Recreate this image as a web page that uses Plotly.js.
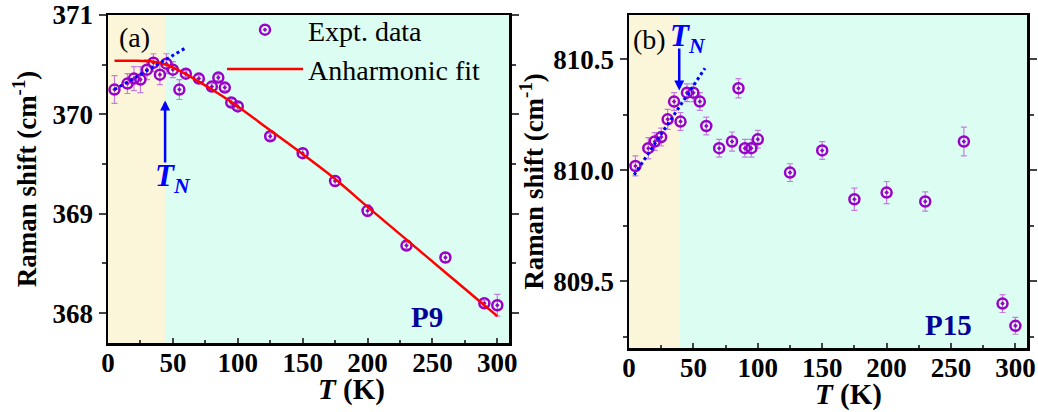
<!DOCTYPE html>
<html>
<head>
<meta charset="utf-8">
<script src="https://cdn.plot.ly/plotly-3.0.1.min.js"></script>
<style>html,body{margin:0;padding:0;background:#fff}#chart{width:1038px;height:412px}</style>
</head>
<body>
<div id="chart"></div>
<script>
// Panel (a): P9 mode
var T_a = [5,15,20,25,30,35,40,45,50,55,60,70,80,85,90,95,100,125,150,175,200,230,260,290,300];
var w_a = [370.25,370.31,370.36,370.35,370.45,370.52,370.40,370.51,370.45,370.25,370.41,370.36,370.28,370.37,370.27,370.12,370.08,369.78,369.61,369.33,369.03,368.68,368.56,368.10,368.08];
var err_a = [0.14,0.10,0.12,0.13,0.10,0.09,0.10,0.10,0.08,0.10,0.03,0.03,0.03,0.03,0.03,0.03,0.03,0.03,0.04,0.05,0.06,0.03,0.05,0.03,0.11];
var fitT_a = [5,20,35,45,55,70,85,100,125,150,175,200,230,260,290,300];
var fitW_a = [370.54,370.54,370.53,370.50,370.44,370.33,370.21,370.08,369.84,369.60,369.35,369.07,368.74,368.41,368.08,367.97];
var dotT_a = [5,60];
var dotW_a = [370.25,370.67];
var TN_a = 44;

// Panel (b): P15 mode
var T_b = [5,15,20,25,30,35,40,45,50,55,60,70,80,85,90,95,100,125,150,175,200,230,260,290,300];
var w_b = [810.02,810.10,810.13,810.15,810.23,810.31,810.22,810.35,810.35,810.31,810.20,810.10,810.13,810.37,810.10,810.10,810.14,809.99,810.09,809.87,809.90,809.86,810.13,809.40,809.30];
var err_b = [0.045,0.048,0.04,0.04,0.045,0.04,0.04,0.04,0.04,0.04,0.04,0.04,0.043,0.043,0.04,0.04,0.04,0.04,0.04,0.05,0.05,0.043,0.065,0.04,0.038];
var dotT_b = [4,59];
var dotW_b = [809.98,810.46];
var TN_b = 39;

var xTicks = [0,50,100,150,200,250,300];

var FONT = "Liberation Serif";
var PURPLE = "#9a00c8";
var ERRC = "#c47ee0";

var traces = [
  {x:T_a, y:w_a, xaxis:'x', yaxis:'y', type:'scatter', mode:'markers', name:'Expt. data',
   marker:{symbol:'circle-open-dot', size:10, color:PURPLE, line:{width:2.5, color:PURPLE}},
   error_y:{type:'data', array:err_a, visible:true, color:ERRC, thickness:1.2, width:3}},
  {x:fitT_a, y:fitW_a, xaxis:'x', yaxis:'y', type:'scatter', mode:'lines', name:'Anharmonic fit',
   line:{color:'#ff0000', width:2.5, shape:'spline'}},
  {x:dotT_a, y:dotW_a, xaxis:'x', yaxis:'y', type:'scatter', mode:'lines', showlegend:false,
   line:{color:'#0000ff', width:3, dash:'dot'}},
  {x:T_b, y:w_b, xaxis:'x2', yaxis:'y2', type:'scatter', mode:'markers', showlegend:false,
   marker:{symbol:'circle-open-dot', size:10, color:PURPLE, line:{width:2.5, color:PURPLE}},
   error_y:{type:'data', array:err_b, visible:true, color:ERRC, thickness:1.2, width:3}},
  {x:dotT_b, y:dotW_b, xaxis:'x2', yaxis:'y2', type:'scatter', mode:'lines', showlegend:false,
   line:{color:'#0000ff', width:3, dash:'dot'}}
];

function xax(dom, anchor){
  return {domain:dom, anchor:anchor, range:[0,309], tickvals:xTicks, ticks:'inside', ticklen:5, tickwidth:2,
    minor:{ticks:'inside', dtick:25, tick0:0, ticklen:3, tickwidth:2},
    showline:true, linewidth:2.5, linecolor:'#000', mirror:true, showgrid:false, zeroline:false,
    ticklabelstandoff:-6,
    tickfont:{family:FONT, size:27, color:'#000', weight:'bold'}};
}
function yax(dom, anchor, range, dtick, mdtick, tickformat, standoff){
  return {domain:dom, anchor:anchor, range:range, dtick:dtick, tick0:0, ticks:'outside', ticklen:7, tickwidth:2,
    minor:{ticks:'outside', dtick:mdtick, ticklen:4, tickwidth:2},
    showline:true, linewidth:2.5, linecolor:'#000', mirror:'allticks', showgrid:false, zeroline:false,
    tickformat:tickformat,
    tickfont:{family:FONT, size:27, color:'#000', weight:'bold'},
    title:{text:'<b>Raman shift (cm<sup>-1</sup>)</b>', font:{family:FONT, size:27, color:'#000'}, standoff:standoff}};
}

var layout = {
  width:1038, height:412,
  margin:{l:0, r:0, t:0, b:0},
  paper_bgcolor:'#ffffff', plot_bgcolor:'#dcfdf2',
  showlegend:true,
  legend:{x:222/1038, y:1-5/412, xanchor:'left', yanchor:'top', bgcolor:'rgba(0,0,0,0)', itemwidth:76,
    font:{family:FONT, size:28, color:'#000'}, tracegroupgap:0},
  xaxis: xax([108/1038, 509/1038], 'y'),
  yaxis: yax([1-343/412, 1-15/412], 'x', [367.7, 371.0], 1, 0.5, 'd', 8),
  xaxis2: xax([629/1038, 1027/1038], 'y2'),
  yaxis2: yax([1-348/412, 1-15/412], 'x2', [809.2, 810.7], 0.5, 0.25, '.1f', 2),
  shapes:[
    {type:'rect', xref:'x', yref:'y domain', x0:0, x1:TN_a, y0:0, y1:1, fillcolor:'#fbf6da', line:{width:0}, layer:'below'},
    {type:'rect', xref:'x2', yref:'y2 domain', x0:0, x1:TN_b, y0:0, y1:1, fillcolor:'#fbf6da', line:{width:0}, layer:'below'}
  ],
  annotations:[
    {xref:'paper', yref:'paper', x:351/1038, y:1-389/412, text:'<b><i>T</i> (K)</b>', showarrow:false,
     font:{family:FONT, size:29, color:'#000'}, xanchor:'center', yanchor:'middle'},
    {xref:'paper', yref:'paper', x:848/1038, y:1-394/412, text:'<b><i>T</i> (K)</b>', showarrow:false,
     font:{family:FONT, size:29, color:'#000'}, xanchor:'center', yanchor:'middle'},
    {xref:'paper', yref:'paper', x:117/1038, y:1-38/412, text:'(a)', showarrow:false,
     font:{family:FONT, size:28, color:'#000'}, xanchor:'left', yanchor:'middle'},
    {xref:'paper', yref:'paper', x:631/1038, y:1-40/412, text:'(b)', showarrow:false,
     font:{family:FONT, size:28, color:'#000'}, xanchor:'left', yanchor:'middle'},
    {xref:'paper', yref:'paper', x:427/1038, y:1-317/412, text:'<b>P9</b>', showarrow:false,
     font:{family:FONT, size:29, color:'#000099'}, xanchor:'center', yanchor:'middle'},
    {xref:'paper', yref:'paper', x:948/1038, y:1-325/412, text:'<b>P15</b>', showarrow:false,
     font:{family:FONT, size:29, color:'#000099'}, xanchor:'center', yanchor:'middle'},
    {xref:'x', yref:'y', x:TN_a, y:370.14, axref:'x', ayref:'y', ax:TN_a, ay:369.50, text:'', showarrow:true,
     arrowhead:2, arrowsize:0.8, arrowwidth:2.5, arrowcolor:'#0000ff'},
    {xref:'paper', yref:'paper', x:173/1038, y:1-178/412, text:'<b><i>T</i></b><sub><b><i>N</i></b></sub>', showarrow:false,
     font:{family:FONT, size:31, color:'#0000ff'}, xanchor:'center', yanchor:'middle'},
    {xref:'x2', yref:'y2', x:TN_b, y:810.36, axref:'x2', ayref:'y2', ax:TN_b, ay:810.556, text:'', showarrow:true,
     arrowhead:2, arrowsize:0.8, arrowwidth:2.5, arrowcolor:'#0000ff'},
    {xref:'paper', yref:'paper', x:688/1038, y:1-38/412, text:'<b><i>T</i></b><sub><b><i>N</i></b></sub>', showarrow:false,
     font:{family:FONT, size:31, color:'#0000ff'}, xanchor:'center', yanchor:'middle'}
  ]
};

Plotly.newPlot('chart', traces, layout, {displayModeBar:false, staticPlot:true});
</script>
</body>
</html>
